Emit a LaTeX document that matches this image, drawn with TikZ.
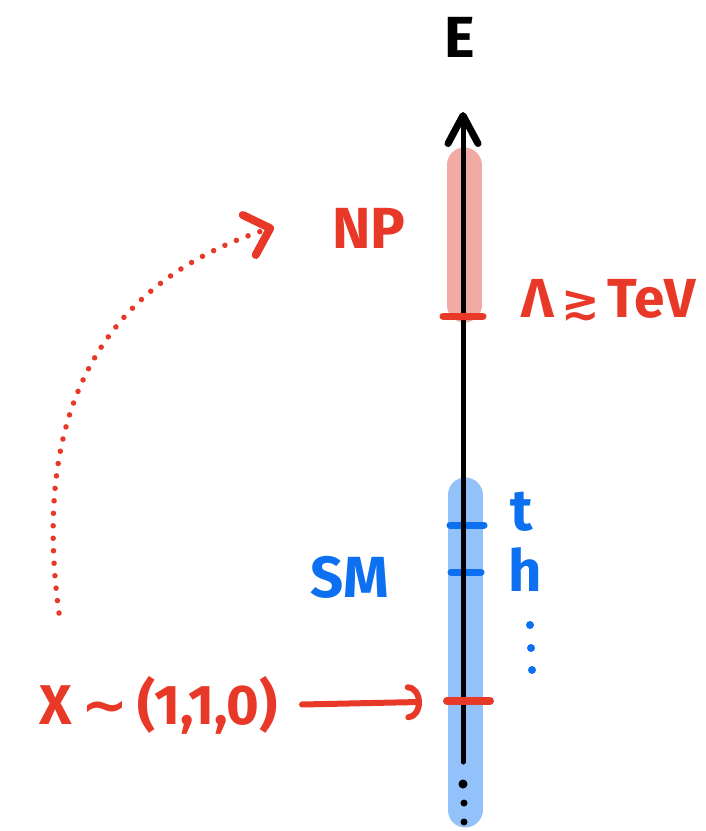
\documentclass[tikz,border=0pt]{standalone}
\usepackage{fontspec}
\setmainfont{Fira Sans}
\newfontfamily\djv{DejaVu Sans}
\usetikzlibrary{arrows.meta}
\definecolor{myred}{RGB}{232,56,40}
\definecolor{myblue}{RGB}{12,112,240}
\definecolor{bandblue}{RGB}{147,193,250}
\definecolor{bandred}{RGB}{242,170,164}
\tikzset{
  lbl/.style={inner sep=0pt, font=\fontsize{58}{58}\selectfont\bfseries},
  redlbl/.style={lbl, text=myred},
  bluelbl/.style={lbl, text=myblue},
  band/.style={line width=35pt, line cap=round},
  tick/.style={line width=7pt, line cap=round},
  axis/.style={line width=5pt, line cap=round,
     -{Straight Barb[round,length=28pt,width=30pt,line width=7pt]}},
  dotarc/.style={myred, line width=5.5pt, line cap=round, dash pattern=on 0pt off 12.5pt,
     -{Straight Barb[round,length=22pt,width=42pt,line width=8pt]}},
  xarrow/.style={myred, line width=6pt, line cap=round,
     -{Arc Barb[round,length=14pt,width=36pt,line width=6pt]}},
  dot/.style={circle, fill, inner sep=0pt, minimum size=#1},
}
\begin{document}
\begin{tikzpicture}[x=1pt,y=-1pt]
\useasboundingbox (0,0) rectangle (706,831);
% coordinates on the axis
\coordinate (axbot) at (463,762);
\coordinate (axtop) at (463,112);
\coordinate (lamtick) at (463,316);
\coordinate (ttick) at (466,525);
\coordinate (htick) at (466,572);
\coordinate (xtick) at (466,701);
% bands
\draw[band, bandred] (464,165) -- (464,305);
\draw[band, bandblue] (465,495) -- (465,810);
% blue ticks
\draw[tick, myblue] ([xshift=-16pt]ttick) -- ([xshift=18pt]ttick);
\draw[tick, myblue] ([xshift=-15pt]htick) -- ([xshift=15pt]htick);
% axis
\draw[axis] (axbot) -- (axtop);
% red ticks
\draw[tick, myred] ([xshift=-20pt]lamtick) -- ([xshift=20pt]lamtick);
\draw[tick, myred, line width=8pt] ([xshift=-19pt]xtick) -- ([xshift=24pt]xtick);
% bottom dots
\node[dot=9pt, black] (b1) at (463,784) {};
\node[dot=7pt, black] (b2) at (464,803) {};
\node[dot=7pt, black] (b3) at (464,822) {};
% labels
\node[lbl] (E) at (460,37) {E};
\node[redlbl] (NP) at (369,228) {NP};
\node[redlbl, anchor=west, font=\fontsize{55}{55}\selectfont\bfseries] (Lam) at (521,300)
  {Λ{\djv\fontsize{46}{46}\selectfont\,≳\,}TeV};
\node[bluelbl] (SM) at (350,577) {SM};
\node[bluelbl] (t) at (522,512) {t};
\node[bluelbl] (h) at (525,570) {h};
\node[dot=8pt, myblue] (v1) at (530,625) {};
\node[dot=8pt, myblue] (v2) at (531,648) {};
\node[dot=8pt, myblue] (v3) at (532,670) {};
\node[redlbl, anchor=east, font=\fontsize{56}{56}\selectfont\bfseries] (X) at (278,705)
  {X\,{\djv ∼}\,(1,1,0)};
% arrows
\draw[xarrow, shorten <=24pt, shorten >=44pt] (X.east) -- (xtick);
\coordinate (arcstart) at (59,613);
\coordinate (arcend) at (274,227);
\draw[dotarc] (arcstart) .. controls (30,400) and (110,280) .. (arcend);
\end{tikzpicture}
\end{document}
